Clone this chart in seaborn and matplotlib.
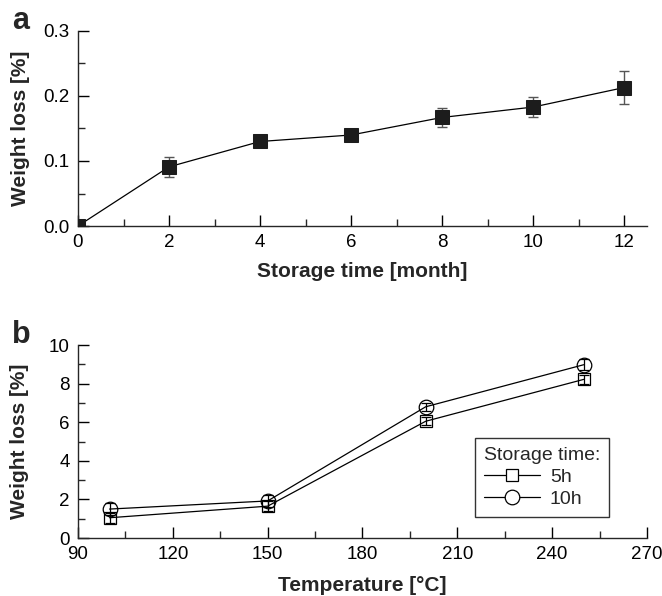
import numpy as np
import pandas as pd
import matplotlib
matplotlib.use("Agg")
import matplotlib.pyplot as plt
import seaborn as sns
from matplotlib.ticker import MultipleLocator, FormatStrFormatter

# ---- data: panel a ----
months = [0, 2, 4, 6, 8, 10, 12]
loss_a = [0.0, 0.091, 0.130, 0.140, 0.167, 0.183, 0.213]
err_a = [0.002, 0.015, 0.005, 0.008, 0.015, 0.015, 0.026]

# ---- data: panel b ----
temps = [100, 150, 200, 250]
loss_5h = [1.05, 1.65, 6.05, 8.22]
err_5h = [0.25, 0.25, 0.2, 0.25]
loss_10h = [1.5, 1.92, 6.8, 8.98]
err_10h = [0.3, 0.3, 0.2, 0.3]
series_labels = ["5h", "10h"]

sns.set_theme(style="ticks")
plt.rcParams['font.family'] = ['Liberation Sans', 'DejaVu Sans']
plt.rcParams['axes.linewidth'] = 1.0

fig = plt.figure(figsize=(6.62, 5.96), dpi=100)
ax1 = fig.add_axes([0.1178, 0.6208, 0.8595, 0.3272])
ax2 = fig.add_axes([0.1178, 0.0973, 0.8595, 0.3238])

# panel a
dfa = pd.DataFrame({"month": months, "loss": loss_a})
ax1.errorbar(months, loss_a, yerr=err_a, fmt="none", ecolor="#555555",
             elinewidth=1.0, capsize=3.5, capthick=1.0, zorder=2)
sns.lineplot(data=dfa, x="month", y="loss", ax=ax1, color="black", lw=0.9,
             marker="s", markersize=10.5, markerfacecolor="#1c1c1c",
             markeredgecolor="#1c1c1c", zorder=3)
ax1.set_xlim(0, 12.5)
ax1.set_ylim(0, 0.3)
ax1.xaxis.set_major_locator(MultipleLocator(2))
ax1.xaxis.set_minor_locator(MultipleLocator(1))
ax1.yaxis.set_major_locator(MultipleLocator(0.1))
ax1.yaxis.set_minor_locator(MultipleLocator(0.05))
ax1.yaxis.set_major_formatter(FormatStrFormatter("%.1f"))
ax1.set_xlabel("Storage time [month]", fontsize=15, fontweight="bold", labelpad=8)
ax1.set_ylabel("Weight loss [%]", fontsize=15, fontweight="bold", labelpad=10)

# panel b
dfb = pd.DataFrame({
    "temp": temps + temps,
    "loss": loss_5h + loss_10h,
    "time": [series_labels[0]] * len(temps) + [series_labels[1]] * len(temps),
})
ax2.errorbar(temps, loss_5h, yerr=err_5h, fmt="none", ecolor="black",
             elinewidth=0.9, capsize=3.5, capthick=0.9, zorder=2)
ax2.errorbar(temps, loss_10h, yerr=err_10h, fmt="none", ecolor="black",
             elinewidth=0.9, capsize=3.5, capthick=0.9, zorder=2)
sns.lineplot(data=dfb, x="temp", y="loss", style="time", hue="time",
             palette=["black", "black"], markers={"5h": "s", "10h": "o"},
             dashes=False, ax=ax2, lw=0.9, markersize=9,
             markerfacecolor="none", markeredgecolor="black",
             markeredgewidth=0.9, zorder=3)
for ln in ax2.get_lines():
    if ln.get_marker() == "o":
        ln.set_markersize(10.5)
ax2.set_xlim(90, 270)
ax2.set_ylim(0, 10)
ax2.xaxis.set_major_locator(MultipleLocator(30))
ax2.xaxis.set_minor_locator(MultipleLocator(15))
ax2.yaxis.set_major_locator(MultipleLocator(2))
ax2.yaxis.set_minor_locator(MultipleLocator(1))
ax2.set_xlabel("Temperature [°C]", fontsize=15, fontweight="bold", labelpad=9)
ax2.set_ylabel("Weight loss [%]", fontsize=15, fontweight="bold", labelpad=14)

handles, labels = ax2.get_legend_handles_labels()
for h in handles:
    h.set_markerfacecolor("white")
    h.set_markeredgecolor("black")
leg = ax2.legend(handles, labels, title="Storage time:", loc="upper left",
                 bbox_to_anchor=(0.698, 0.518), borderaxespad=0.0,
                 frameon=True, fancybox=False,
                 edgecolor="black", fontsize=14, title_fontsize=14,
                 handlelength=2.9, handletextpad=0.5, borderpad=0.45,
                 labelspacing=0.25, alignment="left")
leg.get_frame().set_linewidth(1.0)
leg._legend_box.sep = 3

for ax in (ax1, ax2):
    sns.despine(ax=ax)
    ax.tick_params(which="major", direction="in", length=8, width=1.0,
                   labelsize=13.5, colors="black", pad=6)
    ax.tick_params(which="minor", direction="in", length=5, width=1.0)
    ax.grid(False)
    ax.set_facecolor("white")

fig.text(0.018, 0.951, "a", fontsize=22, fontweight="bold")
fig.text(0.018, 0.4245, "b", fontsize=22, fontweight="bold")

fig.savefig("out.png", dpi=100, facecolor="white")
